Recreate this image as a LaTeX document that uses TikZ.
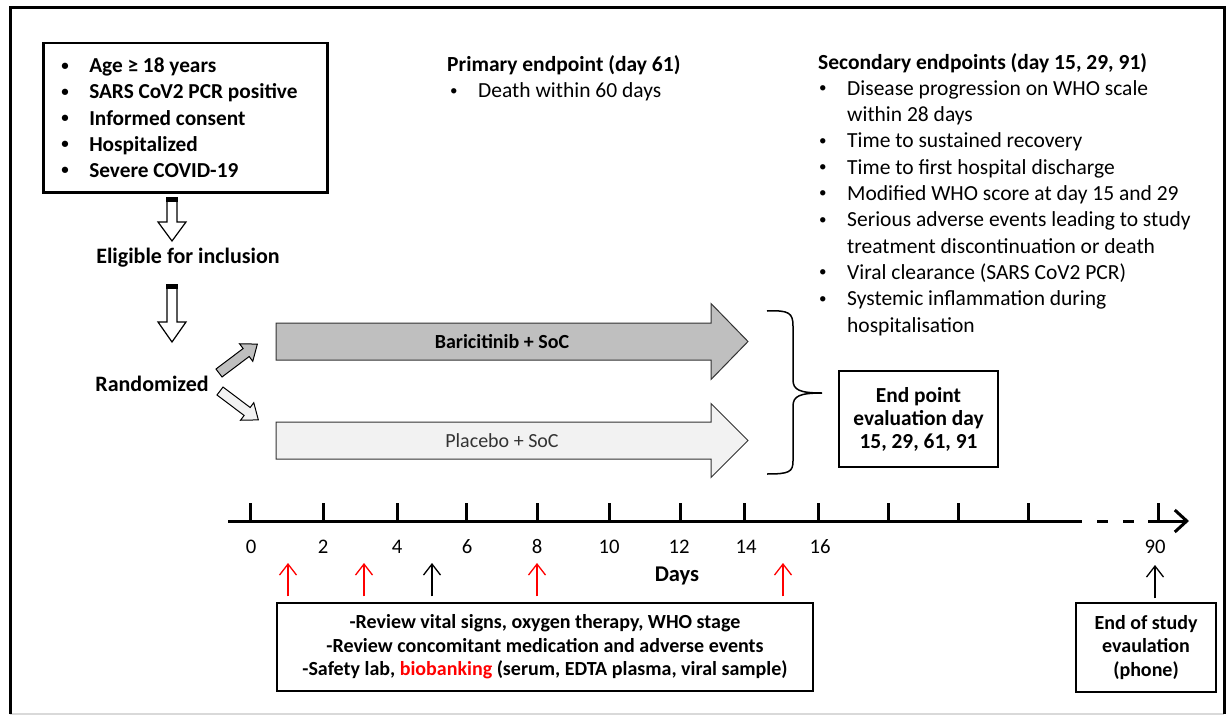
\documentclass[tikz,border=0pt]{standalone}
\usepackage{fontspec}
\setmainfont{Carlito}
\usetikzlibrary{arrows.meta}

\definecolor{armgray}{RGB}{191,191,191}
\definecolor{armlight}{RGB}{242,242,242}
\definecolor{framegray}{RGB}{217,217,217}

\newcommand{\bul}{\makebox[29pt][l]{\hspace{1pt}\raisebox{0.12em}{\scalebox{0.7}{\textbullet}}}}
\newcommand{\ind}{\hspace*{29pt}}
% hollow arrow pointing down: #1 top point, #2 shaft length, #3 head length
\newcommand{\hollowdown}[3]{%
  \draw[fill=white, line width=1.2pt] (#1) ++(-5,0) -- ++(0,#2) -- ++(-9,0) -- ++(14,#3) -- ++(14,-#3) -- ++(-9,0) -- ++(0,-#2) -- cycle;
  \fill (#1) ++(-5.6,-1) rectangle ++(11.2,5);}
% block arrow: #1 style, #2 tail centre, #3 angle, #4 length, #5 head length, #6 shaft half width, #7 head half width
\newcommand{\blockarrow}[7]{%
  \begin{scope}[shift={#2}, rotate=#3]
    \draw[#1] (0,-#6) -- (#4-#5,-#6) -- (#4-#5,-#7) -- (#4,0) -- (#4-#5,#7) -- (#4-#5,#6) -- (0,#6) -- cycle;
  \end{scope}}

\tikzstyle{listtext} = [inner sep=0, align=left, anchor=base west, font=\fontsize{21.5}{26.3}\selectfont]
\tikzstyle{inclbox} = [rectangle, draw=black, line width=2.5pt, anchor=north west, text width=250pt, inner xsep=17pt, minimum height=149pt, align=flush left, font=\bfseries\fontsize{21.3}{26.2}\selectfont]
\tikzstyle{infobox} = [rectangle, draw=black, line width=1.2pt, align=center, font=\bfseries\fontsize{20}{23.6}\selectfont]
\tikzstyle{steptext} = [font=\bfseries\fontsize{22}{26}\selectfont]
\tikzstyle{axisline} = [line width=3pt]
\tikzstyle{uparrow} = [line width=1.3pt, -{Straight Barb[length=11pt, width=17pt]}]

\begin{document}
\begin{tikzpicture}[x=1pt, y=-1pt]
\useasboundingbox (0,0) rectangle (1232,717);

% frame
\draw[framegray, line width=1.5pt] (10,714) -- (1224,714);
\draw[line width=3pt] (10,714) -- (10,8) -- (1224,8) -- (1224,714);

% inclusion
\node (incl) [inclbox] at (42,42) {\bul Age ≥ 18 years\\
\bul SARS CoV2 PCR positive\\
\bul Informed consent\\
\bul Hospitalized\\
\bul Severe COVID-19};
\coordinate (drop1) at (172,198);
\coordinate (drop2) at (172,285);
\hollowdown{drop1}{24}{19}
\node (elig) [steptext] at (188,258) {Eligible for inclusion};
\hollowdown{drop2}{37}{20}
\node (rand) [steptext] at (152,384) {Randomized};

% arms
\blockarrow{draw, fill=armgray, line width=1pt}{(219,373)}{37}{48}{14}{5}{11}
\blockarrow{draw, fill=armlight, line width=1pt}{(220,391)}{-37}{48}{14}{5}{11}
\blockarrow{draw=black!80, fill=armgray, line width=1pt}{(276,341.5)}{0}{472}{37}{18.5}{38}
\blockarrow{draw=black!80, fill=armlight, line width=1pt}{(276,440.5)}{0}{472}{37}{18.5}{37}
\node (bari) [font=\bfseries\fontsize{20}{24}\selectfont] at (502,342) {Baricitinib + SoC};
\node (plac) [font=\fontsize{20}{24}\selectfont, text=black!80] at (502,441) {Placebo + SoC};

% brace and endpoints
\draw[line width=1.5pt] (767,311) .. controls (789,310) and (793,313) .. (793,326) -- (793,380)
  .. controls (793,390) and (800,393) .. (822,393) .. controls (800,393) and (793,396) .. (793,406)
  -- (793,461) .. controls (793,472) and (789,474) .. (767,474);
\node (endpt) [infobox, font=\bfseries\fontsize{21.4}{23}\selectfont, minimum width=159pt, minimum height=96pt] at (918.5,419) {End point\\evaluation day\\15, 29, 61, 91};

\node (prim) [listtext] at (447,98) {\textbf{Primary endpoint (day 61)}\\
\hspace*{2pt}\bul Death within 60 days};
\node (sec) [listtext] at (818,332) {\textbf{Secondary endpoints (day 15, 29, 91)}\\
\bul Disease progression on WHO scale\\
\ind within 28 days\\
\bul Time to sustained recovery\\
\bul Time to first hospital discharge\\
\bul Modified WHO score at day 15 and 29\\
\bul Serious adverse events leading to study\\
\ind treatment discontinuation or death\\
\bul Viral clearance (SARS CoV2 PCR)\\
\bul Systemic inflammation during\\
\ind hospitalisation};

% time axis
\coordinate (ax0) at (228,521);
\coordinate (ax1) at (1082,521);
\coordinate (ax2) at (1158,521);
\coordinate (axend) at (1189,521);
\draw[axisline] (ax0) -- (ax1);
\foreach \x in {1097,1123,1148}
  \draw[axisline] (\x,521) -- ++(11,0);
\draw[axisline, -{Straight Barb[length=12pt, width=22pt]}] (ax2) -- (axend);
\foreach \x in {250,323,397,466,537,609,680,744,818,888,958,1028,1158}
  \draw[axisline] (\x,521) -- (\x,503);
\foreach \d/\x in {0/251,2/323,4/397,6/467,8/537,10/609,12/679,14/746,16/820,90/1155}
  \node (day\d) [font=\fontsize{20.7}{24}\selectfont] at (\x,547) {\d};
\node (days) [font=\bfseries\fontsize{22.5}{26}\selectfont] at (677,576) {Days};

% visits
\node (visit) [infobox, minimum width=536pt, minimum height=88pt] at (545,647) {-Review vital signs, oxygen therapy, WHO stage\\
-Review concomitant medication and adverse events\\
-Safety lab, \textcolor{red}{biobanking} (serum, EDTA plasma, viral sample)};
\node (eos) [infobox, minimum width=140pt, minimum height=89pt] at (1146,647.5) {End of study\\evaulation\\(phone)};
\foreach \i/\x/\c in {1/288/red,3/364/red,5/432/black,8/537/red,15/783/red} {
  \coordinate (v\i) at (\x,563);
  \draw[uparrow, \c, shorten <=6pt] (v\i |- visit.north) -- (v\i);
}
\coordinate (v90) at (1155,565);
\draw[uparrow, shorten <=4pt] (v90 |- eos.north) -- (v90);
\end{tikzpicture}
\end{document}
